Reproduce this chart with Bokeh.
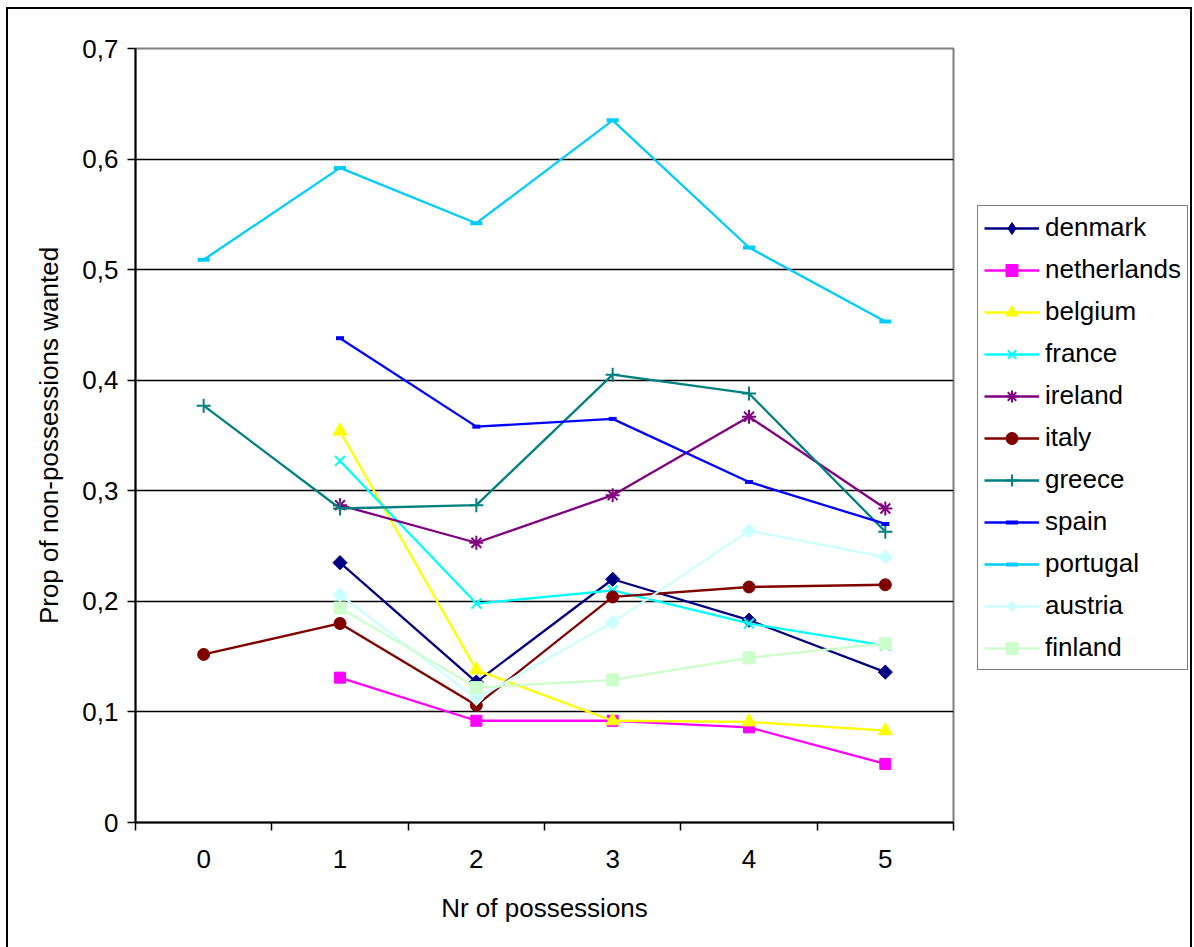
from bokeh.plotting import figure
from bokeh.models import (Range1d, FixedTicker, CustomJSTickFormatter, Legend,
                          LegendItem)
from bokeh.layouts import row
from bokeh.embed import file_html
from bokeh.resources import INLINE
import numpy as np

# ---- data -------------------------------------------------------------
possessions = [0, 1, 2, 3, 4, 5]
x_tick_labels = ["0", "1", "2", "3", "4", "5"]
y_ticks = [0, 0.1, 0.2, 0.3, 0.4, 0.5, 0.6, 0.7]

denmark = [None, 0.235, 0.127, 0.220, 0.183, 0.136]
netherlands = [None, 0.131, 0.092, 0.092, 0.086, 0.053]
belgium = [None, 0.354, 0.138, 0.092, 0.091, 0.083]
france = [None, 0.327, 0.198, 0.210, 0.180, 0.160]
ireland = [None, 0.287, 0.253, 0.296, 0.367, 0.284]
italy = [0.152, 0.180, 0.106, 0.204, 0.213, 0.215]
greece = [0.377, 0.284, 0.287, 0.405, 0.388, 0.263]
spain = [None, 0.438, 0.358, 0.365, 0.308, 0.270]
portugal = [0.509, 0.592, 0.542, 0.635, 0.520, 0.453]
austria = [None, 0.206, 0.112, 0.181, 0.264, 0.240]
finland = [None, 0.194, 0.122, 0.129, 0.149, 0.162]

# name, values, colour, marker, marker size, marker line width, angle, legend marker
series = [
    ("denmark", denmark, "#000080", "square", 10, 1, np.pi / 4, "diamond"),
    ("netherlands", netherlands, "#FF00FF", "square", 11, 1, 0, "square"),
    ("belgium", belgium, "#FFFF00", "triangle", 14, 1, 0, "triangle"),
    ("france", france, "#00FFFF", "x", 14, 2, 0, "x"),
    ("ireland", ireland, "#800080", "asterisk", 14, 2, 0, "asterisk"),
    ("italy", italy, "#800000", "circle", 12, 1, 0, "circle"),
    ("greece", greece, "#008080", "cross", 14, 2, 0, "cross"),
    ("spain", spain, "#0000FF", "dash", 8, 4, 0, "dash"),
    ("portugal", portugal, "#00CCFF", "dash", 12, 4, 0, "dash"),
    ("austria", austria, "#CCFFFF", "square", 10, 1, np.pi / 4, "diamond"),
    ("finland", finland, "#CCFFCC", "square", 12, 1, 0, "square"),
]

FONT = "Liberation Sans"
FS = "26px"

# ---- chart ------------------------------------------------------------
p = figure(width=947, height=938,
           x_range=Range1d(-0.5, 5.5), y_range=Range1d(0, 0.7),
           output_backend="svg", toolbar_location=None,
           min_border_left=127, min_border_right=2,
           min_border_top=39, min_border_bottom=125)

p.background_fill_color = "white"
p.border_fill_color = "white"
p.outline_line_color = "#808080"
p.outline_line_width = 2

p.xgrid.visible = False
p.ygrid.ticker = FixedTicker(ticks=y_ticks[1:-1])
p.ygrid.grid_line_color = "black"
p.ygrid.grid_line_width = 1.5

# x axis: labels at category centres, tick marks between categories
xa = p.xaxis[0]
xa.ticker = FixedTicker(ticks=possessions,
                        minor_ticks=[c - 0.5 for c in possessions] + [possessions[-1] + 0.5])
xa.major_label_overrides = {c: lab for c, lab in zip(possessions, x_tick_labels)}
xa.major_tick_out = 0
xa.major_tick_in = 0
xa.minor_tick_out = 8
xa.minor_tick_in = 0
xa.minor_tick_line_color = "black"
xa.minor_tick_line_width = 1.5
xa.axis_line_color = "black"
xa.axis_line_width = 2
xa.major_label_standoff = 19
xa.axis_label = "Nr of possessions"
xa.axis_label_standoff = 22

ya = p.yaxis[0]
ya.ticker = FixedTicker(ticks=y_ticks)
ya.formatter = CustomJSTickFormatter(code="""
    const s = tick.toFixed(1).replace('.', ',');
    return s === '0,0' ? '0' : s;
""")
ya.major_tick_out = 8
ya.major_tick_in = 0
ya.major_tick_line_color = "black"
ya.major_tick_line_width = 1.5
ya.minor_tick_out = 0
ya.minor_tick_in = 0
ya.axis_line_color = "black"
ya.axis_line_width = 2
ya.major_label_standoff = 9
ya.axis_label = "Prop of non-possessions wanted"
ya.axis_label_standoff = 15

for ax in (xa, ya):
    ax.major_label_text_font = FONT
    ax.major_label_text_font_size = FS
    ax.major_label_text_color = "black"
    ax.axis_label_text_font = FONT
    ax.axis_label_text_font_size = FS
    ax.axis_label_text_font_style = "normal"
    ax.axis_label_text_color = "black"

x = np.array(possessions, dtype=float)
for name, vals, color, marker, size, mlw, ang, _ in series:
    y = np.array([np.nan if v is None else v for v in vals], dtype=float)
    p.line(x, y, line_color=color, line_width=2.3)
    p.scatter(x, y, marker=marker, size=size, angle=ang, fill_color=color,
              line_color=color, line_width=mlw)

# ---- legend panel (frame is aligned with the chart's frame) -----------
lp = figure(width=235, height=938, x_range=Range1d(0, 1), y_range=Range1d(0, 1),
            x_axis_type=None, y_axis_type=None,
            output_backend="svg", toolbar_location=None,
            min_border_left=0, min_border_right=0,
            min_border_top=0, min_border_bottom=0)
lp.outline_line_color = None
lp.grid.visible = False
lp.background_fill_color = "white"
lp.border_fill_color = "white"

items = []
for name, vals, color, marker, size, mlw, ang, lmarker in series:
    lr = lp.line([np.nan], [np.nan], line_color=color, line_width=2.3)
    sr = lp.scatter([np.nan], [np.nan], marker=lmarker, size=size,
                    fill_color=color, line_color=color, line_width=mlw)
    items.append(LegendItem(label=name, renderers=[lr, sr]))

legend = Legend(items=items, location=(22, 152))
legend.border_line_color = "black"
legend.border_line_width = 1.5
legend.background_fill_color = "white"
legend.background_fill_alpha = 1
legend.padding = 6
legend.margin = 0
legend.spacing = 11
legend.glyph_width = 55
legend.glyph_height = 30
legend.label_height = 30
legend.label_standoff = 6
legend.label_text_font = FONT
legend.label_text_font_size = FS
legend.label_text_color = "black"
lp.add_layout(legend)

layout = row(p, lp, spacing=0)
layout.margin = (7, 0, 0, 6)
layout.styles = {"border-top": "2px solid black",
                 "border-left": "2px solid black",
                 "border-right": "2px solid black"}

open("out.html", "w").write(file_html(layout, INLINE))
